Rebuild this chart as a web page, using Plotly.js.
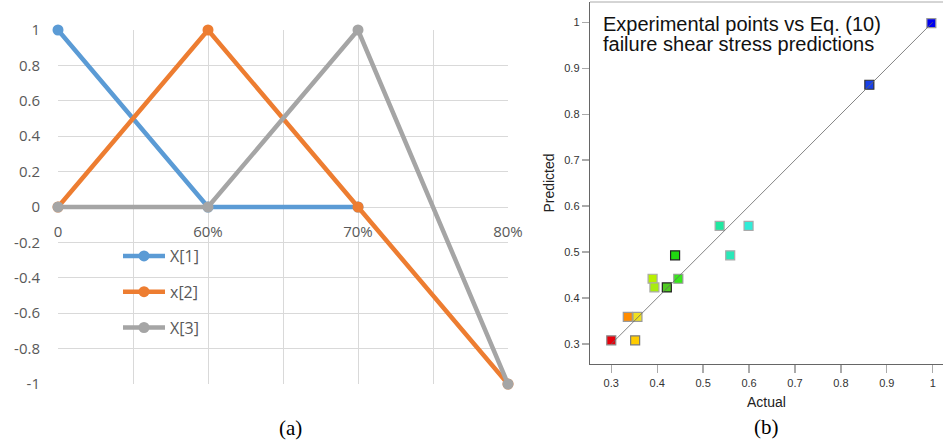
<!DOCTYPE html>
<html><head><meta charset="utf-8">
<script src="https://cdn.plot.ly/plotly-3.0.1.min.js"></script>
<style>html,body{margin:0;padding:0;background:#fff}</style>
</head><body><div id="chart" style="width:943px;height:442px"></div>
<script>
// ---- Panel (a) data ----
const categories = ['0', '60%', '70%', '80%'];
const seriesNames = ['X[1]', 'x[2]', 'X[3]'];
const x1Values = [1, 0, 0];
const x2Values = [0, 1, 0, -1];
const x3Values = [0, 0, 1, -1];
const yTickVals = [1, 0.8, 0.6, 0.4, 0.2, 0, -0.2, -0.4, -0.6, -0.8, -1];
const yTickText = ['1', '0.8', '0.6', '0.4', '0.2', '0', '-0.2', '-0.4', '-0.6', '-0.8', '-1'];

// ---- Panel (b) data ----
const actual    = [0.300, 0.336, 0.357, 0.352, 0.390, 0.394, 0.421, 0.446, 0.439, 0.536, 0.599, 0.559, 0.862, 0.997];
const predicted = [0.308, 0.359, 0.359, 0.308, 0.442, 0.423, 0.423, 0.442, 0.493, 0.557, 0.557, 0.493, 0.864, 0.998];
const pointColors = ['#e8000b', '#ff8c00', '#f0e020', '#ffcc00', '#b8f000', '#a8ec10', '#50cc20', '#38e81c', '#20d810', '#20e8a0', '#30ecd8', '#28e8b8', '#1840e8', '#0000f0'];
const pointBorders = ['#8a8a8a', '#9a9a9a', '#9a9a9a', '#7a7a7a', '#aaaaaa', '#aaaaaa', '#222222', '#999999', '#222222', '#aaaaaa', '#aaaaaa', '#aaaaaa', '#333333', '#999999'];
const diagX = [0.3, 1];
const diagY = [0.3, 1];
const titleLines = ['Experimental points vs Eq. (10)', 'failure shear stress predictions'];

const idx = categories.map((c, i) => i);
const lineColors = ['#5b9bd5', '#ed7d31', '#a5a5a5'];
const seriesVals = [x1Values, x2Values, x3Values];

const traces = seriesVals.map((vals, k) => ({
  type: 'scatter', mode: 'lines+markers',
  x: idx.slice(0, vals.length), y: vals,
  name: seriesNames[k], legendgroup: 'g' + k,
  line: {color: lineColors[k], width: 4.5},
  marker: {color: lineColors[k], size: 11},
  cliponaxis: false, xaxis: 'x', yaxis: 'y', hoverinfo: 'skip'
}));

traces.push({
  type: 'scatter', mode: 'markers', x: actual, y: predicted,
  xaxis: 'x2', yaxis: 'y2', showlegend: false, cliponaxis: false,
  marker: {symbol: 'square', size: 9, color: pointColors, line: {color: pointBorders, width: 1.2}}
});
traces.push({
  type: 'scatter', mode: 'lines', x: diagX, y: diagY,
  xaxis: 'x2', yaxis: 'y2', showlegend: false,
  line: {color: '#666666', width: 0.8}
});

const gridC = '#d9d9d9';
const layout = {
  width: 943, height: 442,
  margin: {l: 0, r: 0, t: 0, b: 0},
  paper_bgcolor: '#fff', plot_bgcolor: 'rgba(0,0,0,0)',
  showlegend: true,
  legend: {x: 118/943, y: 1 - 239/442, xanchor: 'left', yanchor: 'top',
           font: {family: 'Open Sans', size: 16, color: '#595959'},
           itemwidth: 42,
           bgcolor: 'rgba(0,0,0,0)', tracegroupgap: 12},
  xaxis: {
    domain: [58/943, 508/943], range: [0, 3],
    anchor: 'free', position: (1 - 384/442 + 1 - 30/442) / 2,
    tickmode: 'array', tickvals: idx, ticktext: categories,
    showgrid: true, gridcolor: gridC, gridwidth: 1,
    minor: {tickmode: 'linear', tick0: 0, dtick: 0.5, showgrid: true, gridcolor: gridC, gridwidth: 1},
    zeroline: false, showline: false, ticks: '',
    ticklabelstandoff: 14,
    tickfont: {family: 'Open Sans', size: 15, color: '#595959'}
  },
  yaxis: {
    domain: [1 - 384/442, 1 - 30/442], range: [-1, 1],
    tickmode: 'array', tickvals: yTickVals, ticktext: yTickText,
    showgrid: true, gridcolor: gridC, gridwidth: 1,
    zeroline: true, zerolinecolor: gridC, zerolinewidth: 1,
    showline: false, ticks: '', ticklabelstandoff: 17,
    tickfont: {family: 'Open Sans', size: 15, color: '#595959'}
  },
  xaxis2: {
    domain: [590/943, 1], range: [0.2537, 1.0224], anchor: 'y2',
    tick0: 0.3, dtick: 0.1, showgrid: false, zeroline: false,
    showline: true, linecolor: '#666', linewidth: 1.3,
    ticks: 'outside', ticklen: 8, tickcolor: '#aaa', tickwidth: 1.3,
    tickfont: {family: 'Arial', size: 11, color: '#333'},
    title: {text: 'Actual', font: {family: 'Arial', size: 14, color: '#222'}, standoff: 9}
  },
  yaxis2: {
    domain: [1 - 364/442, 1 - 2/442], range: [0.2565, 1.044], anchor: 'x2',
    tick0: 0.3, dtick: 0.1, showgrid: false, zeroline: false,
    showline: true, linecolor: '#666', linewidth: 1.3,
    ticks: 'outside', ticklen: 7, tickcolor: '#aaa', tickwidth: 1.3,
    tickfont: {family: 'Arial', size: 11, color: '#333'},
    title: {text: 'Predicted', font: {family: 'Arial', size: 14, color: '#222'}, standoff: 6}
  },
  shapes: [{type: 'line', xref: 'x2 domain', yref: 'y2 domain', x0: 0, x1: 1, y0: 1, y1: 1,
            line: {color: '#aaa', width: 1}}],
  annotations: [
    {text: titleLines[0], xref: 'paper', yref: 'paper', x: 601/943, y: 1 - 24/442,
     xanchor: 'left', yanchor: 'middle', showarrow: false,
     font: {family: 'Arial', size: 20, color: '#111'}},
    {text: titleLines[1], xref: 'paper', yref: 'paper', x: 601/943, y: 1 - 44/442,
     xanchor: 'left', yanchor: 'middle', showarrow: false,
     font: {family: 'Arial', size: 20, color: '#111'}},
    {text: '(a)', xref: 'paper', yref: 'paper', x: 290/943, y: 1 - 428/442,
     xanchor: 'center', yanchor: 'middle', showarrow: false,
     font: {family: 'Liberation Serif', size: 21, color: '#000'}},
    {text: '(b)', xref: 'paper', yref: 'paper', x: 766/943, y: 1 - 427/442,
     xanchor: 'center', yanchor: 'middle', showarrow: false,
     font: {family: 'Liberation Serif', size: 21, color: '#000'}}
  ]
};

Plotly.newPlot('chart', traces, layout, {displayModeBar: false, staticPlot: true});
</script></body></html>
